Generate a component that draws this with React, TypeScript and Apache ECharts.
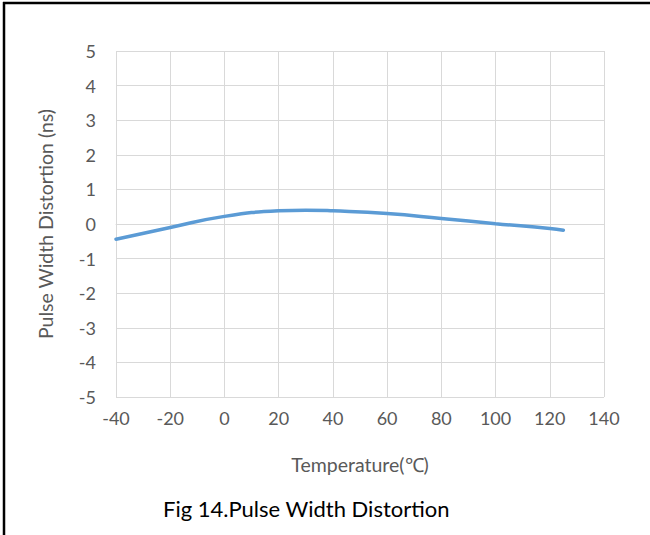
import React, { useEffect, useRef } from "react";
import * as echarts from "echarts";

const temperatures = [-40, -20, 0, 20, 30, 40, 60, 80, 100, 120, 125];
const distortion = [-0.44, -0.1, 0.22, 0.38, 0.4, 0.38, 0.3, 0.16, 0.01, -0.13, -0.18];
const xTicks = { min: -40, max: 140, interval: 20 };
const yTicks = { min: -5, max: 5, interval: 1 };
const titleText = "Fig 14.Pulse Width Distortion";
const xName = "Temperature(℃)";
const yName = "Pulse Width Distortion (ns)";

const FONT = "Lato, 'Open Sans', sans-serif";

export default function App() {
  const ref = useRef<HTMLDivElement>(null);
  useEffect(() => {
    if (!ref.current) return;
    const chart = echarts.init(ref.current, null, { renderer: "svg" });
    chart.setOption({
      animation: false,
      backgroundColor: "#ffffff",
      grid: { left: 116, right: 46, top: 51, bottom: 138 },
      xAxis: {
        type: "value",
        min: xTicks.min,
        max: xTicks.max,
        interval: xTicks.interval,
        name: xName,
        nameLocation: "middle",
        nameGap: 57,
        nameTextStyle: { color: "#595959", fontSize: 19.5, fontFamily: FONT },
        axisLine: { show: true, lineStyle: { color: "#d9d9d9", width: 1 } },
        axisTick: { show: true, length: 6, lineStyle: { color: "#d9d9d9" } },
        axisLabel: { color: "#595959", fontSize: 18, fontFamily: FONT, margin: 12 },
        splitLine: { show: true, lineStyle: { color: "#d9d9d9", width: 1 } },
      },
      yAxis: {
        type: "value",
        min: yTicks.min,
        max: yTicks.max,
        interval: yTicks.interval,
        name: yName,
        nameLocation: "middle",
        nameGap: 61,
        nameTextStyle: { color: "#595959", fontSize: 19.5, fontFamily: FONT },
        axisLine: { show: false },
        axisTick: { show: false },
        axisLabel: { color: "#595959", fontSize: 18, fontFamily: FONT, margin: 20 },
        splitLine: { show: true, lineStyle: { color: "#d9d9d9", width: 1 } },
      },
      series: [
        {
          type: "line",
          data: temperatures.map((t, i) => [t, distortion[i]]),
          smooth: 0.5,
          showSymbol: false,
          symbol: "none",
          lineStyle: { color: "#5b9bd5", width: 3.5, cap: "round" },
        },
      ],
      graphic: [
        {
          type: "line",
          shape: { x1: 3, y1: 3, x2: 650, y2: 3 },
          style: { stroke: "#000000", lineWidth: 2.5 },
        },
        {
          type: "line",
          shape: { x1: 4, y1: 2, x2: 4, y2: 535 },
          style: { stroke: "#000000", lineWidth: 2.5 },
        },
        {
          type: "text",
          left: 163,
          top: 497,
          style: { text: titleText, fill: "#000000", fontSize: 22, fontFamily: FONT },
        },
      ],
    });
    return () => chart.dispose();
  }, []);
  return (
    <div
      ref={ref}
      style={{ position: "absolute", left: 0, top: 0, width: 650, height: 535 }}
    />
  );
}
